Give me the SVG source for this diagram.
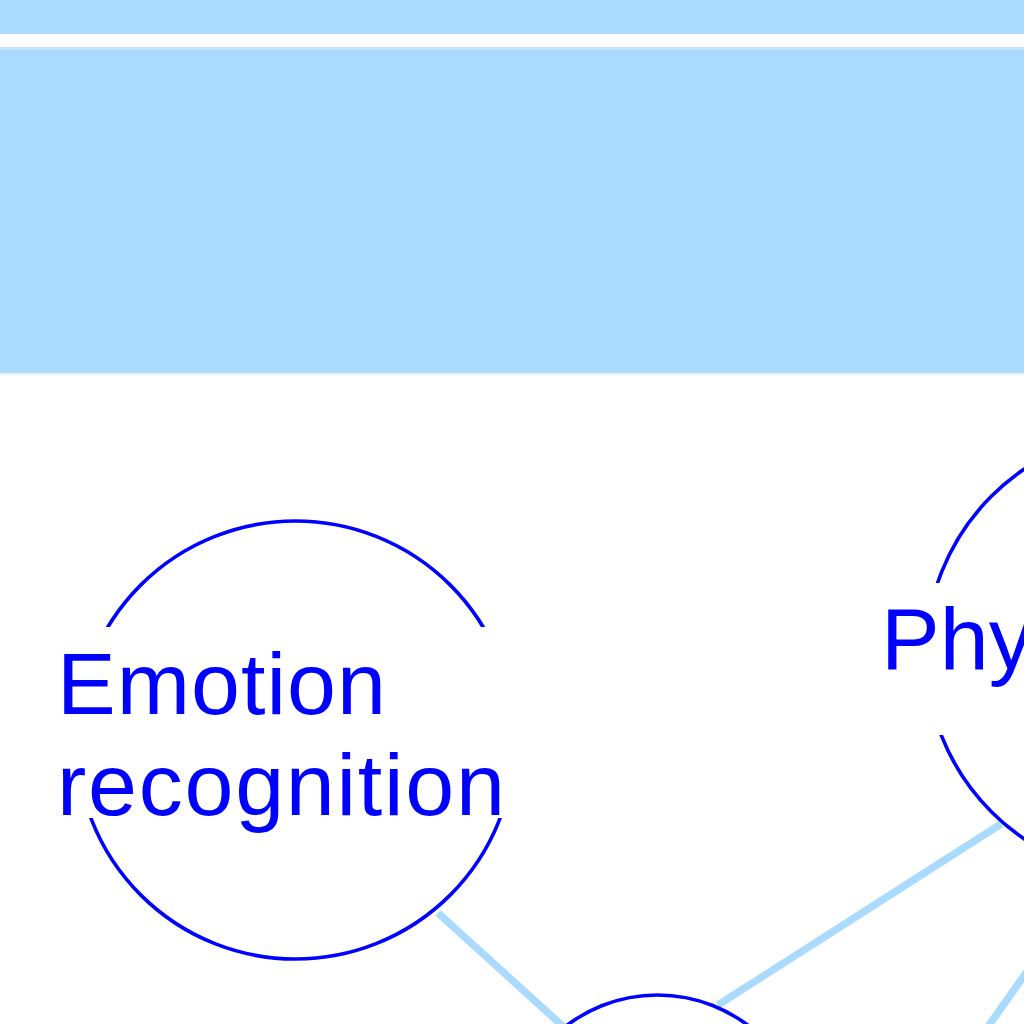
<svg xmlns="http://www.w3.org/2000/svg" width="1024" height="1024" viewBox="0 0 1024 1024">
  <style>
    .band { fill: #aadbff; }
    .node-ring { fill: none; stroke: #0000ff; stroke-width: 3.6; }
    .label-bg { fill: #ffffff; }
    .label { font-family: "Liberation Sans", Arial, sans-serif; font-size: 88px; fill: #0000ff; }
    .edge { stroke: #aadbff; stroke-width: 7.5; fill: none; stroke-linecap: butt; }
  </style>
  <rect x="0" y="0" width="1024" height="1024" fill="#ffffff"/>
  <g id="header">
    <rect class="band" x="0" y="0" width="1024" height="34"/>
    <rect x="0" y="47" width="1024" height="3" fill="#c3e5fc"/>
    <rect class="band" x="0" y="50" width="1024" height="323"/>
    <rect x="0" y="373" width="1024" height="2" fill="#e2f3fe"/>
  </g>
  <g id="connectors">
    <line class="edge" x1="438" y1="913" x2="567" y2="1030"/>
    <line class="edge" x1="1001" y1="824" x2="718" y2="1005"/>
    <line class="edge" x1="1040" y1="953" x2="980" y2="1038"/>
  </g>
  <g id="node-center">
    <circle class="node-ring" cx="657.5" cy="1145" r="150"/>
  </g>
  <g id="node-emotion">
    <circle class="node-ring" cx="295.5" cy="740" r="219"/>
    <rect class="label-bg" x="50" y="627" width="472" height="191"/>
    <text class="label" x="57" y="714" textLength="329" lengthAdjust="spacing">Emotion</text>
    <text class="label" x="57" y="815" textLength="448" lengthAdjust="spacing">recognition</text>
  </g>
  <g id="node-physics">
    <circle class="node-ring" cx="1149" cy="654" r="223"/>
    <rect class="label-bg" x="876" y="583" width="148" height="152"/>
    <text class="label" x="881" y="669">Phy</text>
  </g>
</svg>
